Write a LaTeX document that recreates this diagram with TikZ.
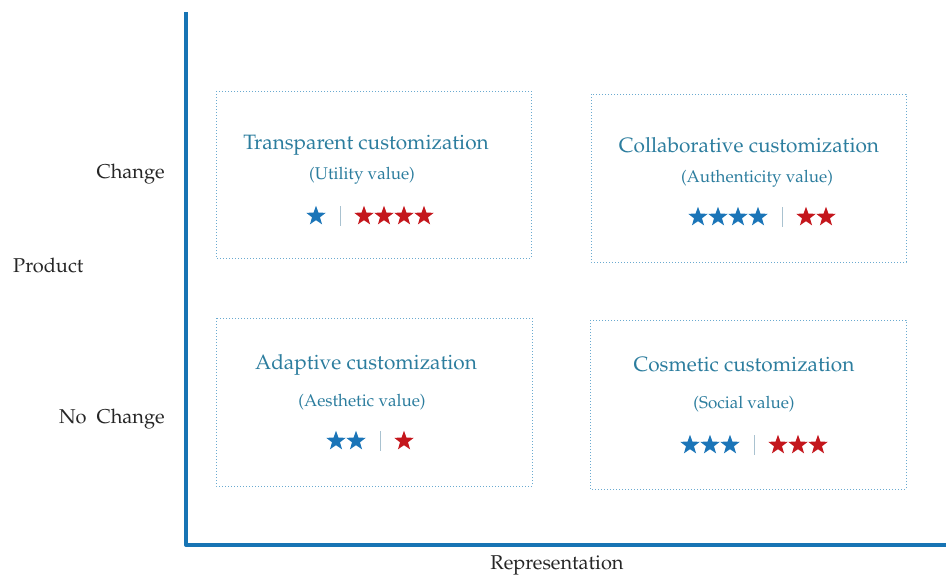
\documentclass[tikz,border=0pt]{standalone}
\usepackage[T1]{fontenc}
\usepackage{mathpazo}
\usetikzlibrary{shapes.geometric}
\definecolor{axisblue}{HTML}{1774B4}
\definecolor{titleblue}{HTML}{2C7D9E}
\definecolor{boxblue}{HTML}{6AAAD0}
\definecolor{starblue}{HTML}{1B75B8}
\definecolor{starred}{HTML}{C4161C}
\definecolor{sepgray}{HTML}{A9C2D0}
\tikzset{
  axisline/.style={draw=axisblue, line width=4pt},
  quadbox/.style={draw=boxblue, dotted, line width=1pt},
  titletext/.style={text=titleblue, font=\fontsize{20.8}{24}\selectfont, inner sep=0pt},
  subtext/.style={text=titleblue, font=\fontsize{17}{20}\selectfont, inner sep=0pt},
  sidetext/.style={text=black!85, font=\fontsize{20}{23}\selectfont, inner sep=0pt},
  bstar/.style={star, star points=5, star point ratio=2.45, fill=starblue, draw=none, minimum size=20.5pt, inner sep=0pt},
  rstar/.style={bstar, fill=starred},
  sepline/.style={draw=sepgray, line width=0.9pt}
}
% #1 name, #2 separator x, #3 y, #4 number blue, #5 number red
\newcommand{\starrow}[5]{%
  \foreach \i in {1,...,#4} {\node[bstar] (#1b\i) at ({#2-4-20*\i}, #3) {};}
  \foreach \i in {1,...,#5} {\node[rstar] (#1r\i) at ({#2+4+20*\i}, #3) {};}
  \coordinate (#1st) at (#2, #3-10);
  \coordinate (#1sb) at (#2, #3+10);
  \draw[sepline] (#1st) -- (#1sb);
}
\begin{document}
\begin{tikzpicture}[x=1pt,y=-1pt]
\useasboundingbox (0,0) rectangle (946,576);
% axes
\coordinate (top) at (186,12);
\coordinate (origin) at (186,545);
\coordinate (right) at (946,545);
\draw[axisline, line join=round] (top) -- (origin) -- (right);
% axis labels
\node[sidetext, anchor=east] (chg) at (165,174) {Change};
\node[sidetext, anchor=west] (prod) at (13,265) {Product};
\node[sidetext, anchor=east] (nochg) at (165,419) {No\ \ Change};
\node[sidetext] (repr) at (557,565) {Representation};
% boxes
\draw[quadbox] (216,91) rectangle (531,258);
\draw[quadbox] (591,94) rectangle (906,262);
\draw[quadbox] (216,318) rectangle (532,486);
\draw[quadbox] (590,320) rectangle (906,489);
% TL
\node[titletext] (t1) at (366,145) {Transparent customization};
\node[subtext] (s1) at (362,176) {(Utility value)};
\starrow{q1}{340}{216}{1}{4}
% TR
\node[titletext] (t2) at (749,145) {Collaborative customization};
\node[subtext] (s2) at (757,179) {(Authenticity value)};
\starrow{q2}{782}{217}{4}{2}
% BL
\node[titletext] (t3) at (366,365) {Adaptive customization};
\node[subtext] (s3) at (362,402) {(Aesthetic value)};
\starrow{q3}{380}{441}{2}{1}
% BR
\node[titletext] (t4) at (744,365) {Cosmetic customization};
\node[subtext] (s4) at (744,404) {(Social value)};
\starrow{q4}{754}{445}{3}{3}
\end{tikzpicture}
\end{document}
